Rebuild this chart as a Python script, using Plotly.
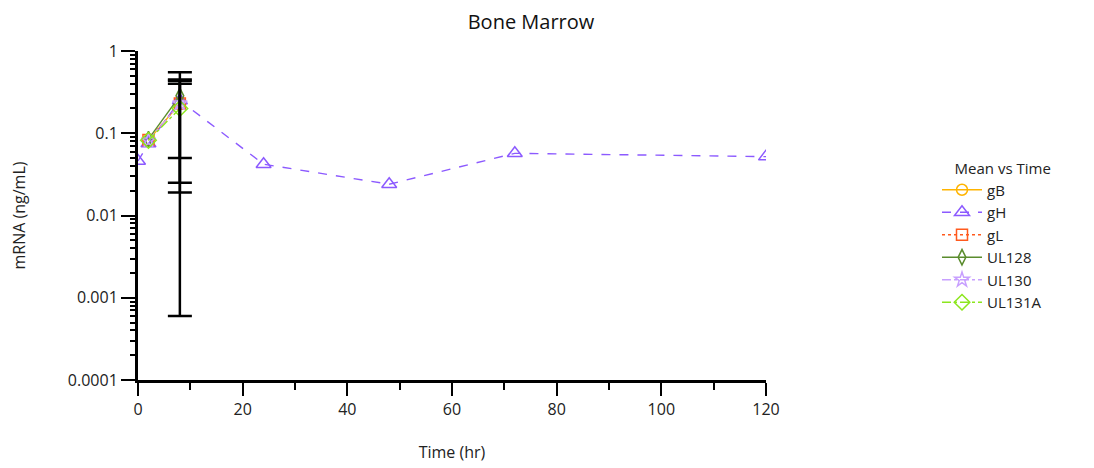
import plotly.graph_objects as go

# ---- data ----
series_names = ["gB", "gH", "gL", "UL128", "UL130", "UL131A"]
gB_time = [2, 8]
gB_mean = [0.082, 0.23]
gB_sd = [None, None]
gH_time = [0, 2, 8, 24, 48, 72, 120]
gH_mean = [0.046, 0.075, 0.25, 0.042, 0.024, 0.057, 0.052]
gH_sd = [None, None, 0.20, None, None, None, None]
gL_time = [2, 8]
gL_mean = [0.083, 0.23]
gL_sd = [None, 0.205]
UL128_time = [2, 8]
UL128_mean = [0.085, 0.285]
UL128_sd = [None, 0.266]
UL130_time = [2, 8]
UL130_mean = [0.082, 0.23]
UL130_sd = [None, None]
UL131A_time = [2, 8]
UL131A_mean = [0.082, 0.20]
UL131A_sd = [None, 0.1994]

x_ticks = [0, 20, 40, 60, 80, 100, 120]
y_tickvals = [1, 0.1, 0.01, 0.001, 0.0001]
y_ticktext = ["1", "0.1", "0.01", "0.001", "0.0001"]

styles = {
    "gB": dict(color="#FFB400", dash="solid", symbol="circle-open", size=11),
    "gH": dict(color="#8C5AFF", dash="dash", symbol="triangle-up-open", size=13),
    "gL": dict(color="#FF5A1E", dash="dot", symbol="square-open", size=11),
    "UL128": dict(color="#5A8C2D", dash="solid", symbol="diamond-tall-open", size=11),
    "UL130": dict(color="#C8A0FF", dash="dashdot", symbol="star-open", size=11),
    "UL131A": dict(color="#8CE61E", dash="dashdot", symbol="diamond-open", size=12),
}
data = {
    "gB": (gB_time, gB_mean, gB_sd),
    "gH": (gH_time, gH_mean, gH_sd),
    "gL": (gL_time, gL_mean, gL_sd),
    "UL128": (UL128_time, UL128_mean, UL128_sd),
    "UL130": (UL130_time, UL130_mean, UL130_sd),
    "UL131A": (UL131A_time, UL131A_mean, UL131A_sd),
}

# the page body has an 8px default margin; figure coords are page coords - 8
OFF = 8
W, H = 1094 - OFF, 468 - OFF

FONT = "Open Sans, Noto Sans, DejaVu Sans, sans-serif"
fig = go.Figure()
for name in series_names:
    t, m, sd = data[name]
    st = styles[name]
    fig.add_trace(go.Scatter(
        x=t, y=m, name=name, mode="lines+markers",
        line=dict(color=st["color"], dash=st["dash"], width=1.4),
        marker=dict(symbol=st["symbol"], size=st["size"], color=st["color"],
                    line=dict(width=1.5, color=st["color"])),
    ))

# error bars (only points that have an SD)
for name in series_names:
    t, m, sd = data[name]
    ex = [ti for ti, s in zip(t, sd) if s is not None]
    ey = [mi for mi, s in zip(m, sd) if s is not None]
    es = [s for s in sd if s is not None]
    if not es:
        continue
    fig.add_trace(go.Scatter(
        x=ex, y=ey, mode="markers", showlegend=False, hoverinfo="skip",
        marker=dict(size=1, opacity=0),
        error_y=dict(type="data", array=es, visible=True, color="black",
                     thickness=2.5, width=12),
    ))

fig.update_layout(
    width=W, height=H,
    paper_bgcolor="white", plot_bgcolor="white",
    margin=dict(l=138 - OFF, r=1094 - 766, t=51 - OFF, b=468 - 380),
    font=dict(family=FONT, size=16, color="#222"),
    title=dict(text="Bone Marrow", x=(531 - OFF) / W, xref="container", xanchor="center",
               y=1 - (22 - OFF) / H, yref="container", yanchor="middle",
               font=dict(size=20, color="#111")),
    showlegend=True,
    legend=dict(title=dict(text="&nbsp;&nbsp;&nbsp;&nbsp;Mean vs Time", font=dict(size=15)),
                x=(937 - OFF) / W, xref="container", xanchor="left",
                y=1 - (154 - OFF) / H, yref="container", yanchor="top",
                font=dict(size=15), tracegroupgap=0, itemwidth=40,
                bgcolor="rgba(0,0,0,0)"),
    xaxis=dict(
        range=[0, 120], tickvals=x_ticks, ticks="outside", ticklen=13, tickwidth=2,
        tickcolor="black", showline=True, linewidth=3, linecolor="black",
        showgrid=False, zeroline=False, automargin=False,
        minor=dict(ticks="outside", dtick=10, ticklen=7, tickwidth=2,
                   tickcolor="black", showgrid=False),
        title=dict(text="Time (hr)", standoff=28, font=dict(size=16)),
        tickfont=dict(size=16),
    ),
    yaxis=dict(
        type="log", range=[-4, 0], tickvals=y_tickvals, ticktext=y_ticktext,
        ticks="outside", ticklen=14, tickwidth=2, tickcolor="black",
        showline=True, linewidth=3, linecolor="black", showgrid=False,
        zeroline=False, automargin=False,
        minor=dict(ticks="outside", ticklen=5, tickwidth=2, tickcolor="black",
                   showgrid=False, dtick="D1"),
        title=dict(text="mRNA (ng/mL)", standoff=41, font=dict(size=16)),
        tickfont=dict(size=16),
    ),
)

fig.write_html("out.html")
